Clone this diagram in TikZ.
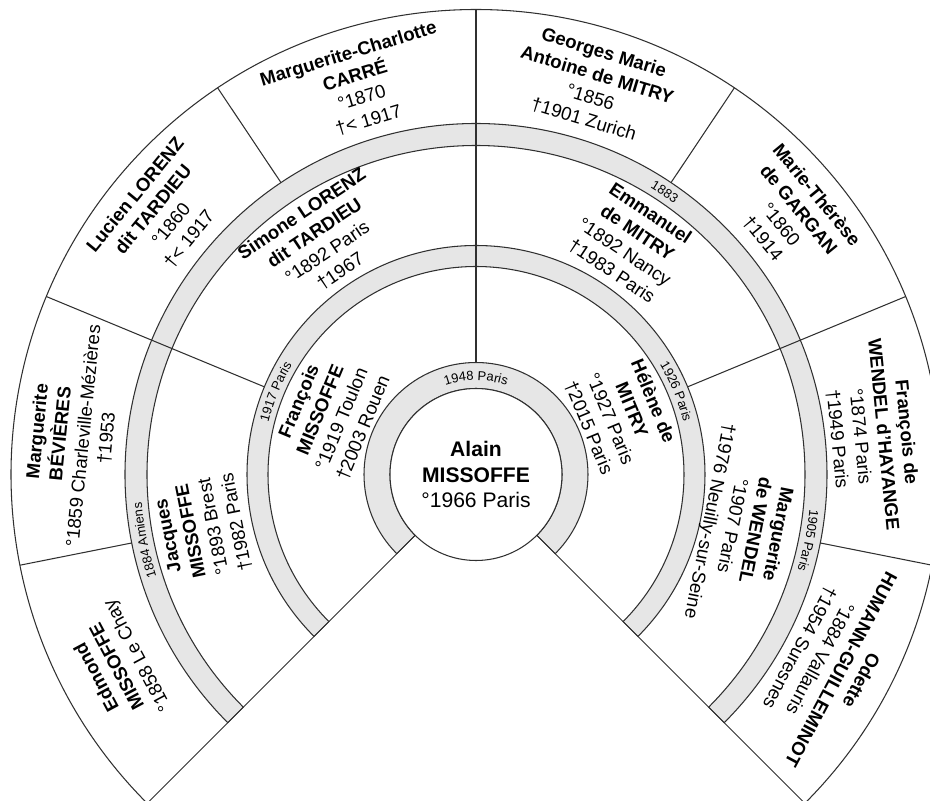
\documentclass[tikz,border=0pt]{standalone}
\usepackage{fontspec}
\setmainfont{Liberation Sans}
\usetikzlibrary{decorations.text}
\definecolor{cband}{HTML}{E6E6E6}
\definecolor{cline}{HTML}{303030}
\tikzset{
  every picture/.style={line width=0.6pt},
  band/.style={fill=cband, draw=cline},
  rim/.style={draw=cline},
  person/.style={align=center, inner sep=0pt, font=\fontsize{10.6}{13.2}\selectfont},
  root/.style={align=center, inner sep=0pt, font=\fontsize{12}{14.6}\selectfont},
  wedding/.style={decorate, decoration={text along path, text align=center,
    text={|\fontsize{7.4}{8}\selectfont|#1}}},
}

\begin{document}
\begin{tikzpicture}[x=0.02cm, y=0.02cm]
  \useasboundingbox (-476,-326.5) rectangle (454,474.5);
  % grey bands between the generations
  \foreach \ri/\ro in {86/112, 208/229, 329/351}
    \draw[band] (225:\ri) arc[start angle=225, end angle=-45, radius=\ri]
      -- (-45:\ro) arc[start angle=-45, end angle=225, radius=\ro] -- cycle;
  % outer rim, centre disc and spokes
  \draw[rim] (225:465) arc[start angle=225, end angle=-45, radius=465];
  \draw[rim, fill=white] (0,0) circle[radius=86];
  \draw[rim] (225:86) -- (225:465);
  \draw[rim] (-45:86) -- (-45:465);
  \draw[rim] (90:112) -- (90:465);
  \foreach \a in {157.5, 22.5} \draw[rim] (\a:229) -- (\a:465);
  \foreach \a in {191.25, 123.75, 56.25, -11.25} \draw[rim] (\a:351) -- (\a:465);
  % marriages
  \path[wedding=1948 Paris] (120:94) arc[start angle=120, end angle=60, radius=94];
  \path[wedding=1917 Paris] (180:214) arc[start angle=180, end angle=135, radius=214];
  \path[wedding=1926 Paris] (45:214) arc[start angle=45, end angle=0, radius=214];
  \path[wedding=1884 Amiens] (206.25:335.5) arc[start angle=206.25, end angle=176.25, radius=335.5];
  \path[wedding=1883] (71.25:335.5) arc[start angle=71.25, end angle=41.25, radius=335.5];
  \path[wedding=1905 Paris] (3.75:335.5) arc[start angle=3.75, end angle=-26.25, radius=335.5];
  % centre
  \node[root] (alain) at (0,0) {\textbf{Alain}\\\textbf{MISSOFFE}\\°1966 Paris};
  % parents
  \node[person, rotate=67.5] (francois) at (157.5:157) {\textbf{François}\\\textbf{MISSOFFE}\\°1919 Toulon\\†2003 Rouen};
  \node[person, rotate=-67.5] (helene) at (22.5:157) {\textbf{Hélène de}\\\textbf{MITRY}\\°1927 Paris\\†2015 Paris};
  % grandparents
  \node[person, rotate=101.25] (jacques) at (191.25:279) {\textbf{Jacques}\\\textbf{MISSOFFE}\\°1893 Brest\\†1982 Paris};
  \node[person, rotate=33.75] (simone) at (123.75:279) {\textbf{Simone LORENZ}\\\textbf{dit TARDIEU}\\°1892 Paris\\†1967};
  \node[person, rotate=-33.75] (emmanuel) at (56.25:279) {\textbf{Emmanuel}\\\textbf{de MITRY}\\°1892 Nancy\\†1983 Paris};
  \node[person, rotate=-101.25] (mwendel) at (-11.25:272) {\textbf{Marguerite}\\\textbf{de WENDEL}\\°1907 Paris\\†1976 Neuilly-sur-Seine};
  % great-grandparents
  \node[person, rotate=118.125] (edmond) at (208.125:406) {\textbf{Edmond}\\\textbf{MISSOFFE}\\°1858 Le Chay};
  \node[person, rotate=84.375] (bevieres) at (174.375:406) {\textbf{Marguerite}\\\textbf{BÉVIÈRES}\\°1859 Charleville-Mézières\\†1953};
  \node[person, rotate=50.625] (lucien) at (140.625:406) {\textbf{Lucien LORENZ}\\\textbf{dit TARDIEU}\\°1860\\†< 1917};
  \node[person, rotate=16.875] (carre) at (106.875:405) {\textbf{Marguerite-Charlotte}\\\textbf{CARRÉ}\\°1870\\†< 1917};
  \node[person, rotate=-16.875] (georges) at (73.125:406) {\textbf{Georges Marie}\\\textbf{Antoine de MITRY}\\°1856\\†1901 Zurich};
  \node[person, rotate=-50.625] (gargan) at (39.375:406) {\textbf{Marie-Thérèse}\\\textbf{de GARGAN}\\°1860\\†1914};
  \node[person, rotate=-84.375] (fwendel) at (5.625:398) {\textbf{François de}\\\textbf{WENDEL d'HAYANGE}\\°1874 Paris\\†1949 Paris};
  \node[person, rotate=-118.125] (odette) at (-28.125:402) {\textbf{Odette}\\\textbf{HUMANN-GUILLEMINOT}\\°1884 Vallauris\\†1954 Suresnes};
\end{tikzpicture}
\end{document}
